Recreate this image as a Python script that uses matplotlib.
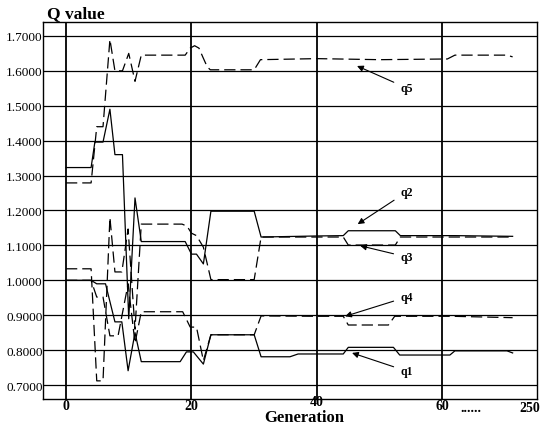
import matplotlib
matplotlib.use("Agg")
import matplotlib.pyplot as plt
import matplotlib.transforms as mtransforms

# ---- data ----
q5_x = [0, 4, 4.9, 5.9, 7, 7.8, 9, 10, 11, 12, 19, 19.8, 20.5, 21.2, 21.8, 22.5, 23, 30, 31, 40, 50, 60.8, 62, 70.3, 71.2]
q5_y = [1.279, 1.279, 1.44, 1.44, 1.69, 1.60, 1.60, 1.65, 1.57, 1.645, 1.645, 1.665, 1.672, 1.665, 1.64, 1.612, 1.603, 1.603, 1.632, 1.635, 1.632, 1.634, 1.645, 1.645, 1.64]

q2_x = [0, 4, 4.6, 5.9, 7, 7.8, 9, 10, 11, 12, 19, 20, 20.8, 21.9, 23.1, 30, 31.1, 40, 44.2, 45, 52.5, 53.3, 62, 71.2]
q2_y = [1.323, 1.323, 1.396, 1.396, 1.49, 1.36, 1.36, 0.89, 1.236, 1.111, 1.111, 1.075, 1.075, 1.047, 1.198, 1.198, 1.124, 1.127, 1.128, 1.142, 1.142, 1.128, 1.128, 1.126]

q3_x = [0, 4, 4.9, 5.9, 7, 7.8, 8.9, 9.9, 11, 12, 18.5, 19.3, 20, 20.8, 21.9, 23.1, 30, 31.1, 44.2, 45, 52.5, 53.3, 71.2]
q3_y = [1.033, 1.033, 0.712, 0.712, 1.18, 1.024, 1.024, 1.147, 0.86, 1.161, 1.161, 1.155, 1.135, 1.128, 1.095, 1.002, 1.002, 1.124, 1.124, 1.101, 1.101, 1.124, 1.124]

q4_x = [0, 4, 4.9, 5.9, 7, 8.3, 9.9, 11, 12, 18.6, 19.8, 20.8, 21.9, 23.1, 30, 31.1, 40, 44.2, 45, 51.4, 52.4, 61.5, 71.2]
q4_y = [1.0, 1.0, 0.952, 0.952, 0.841, 0.841, 0.99, 0.82, 0.91, 0.91, 0.866, 0.866, 0.77, 0.844, 0.844, 0.898, 0.897, 0.897, 0.872, 0.872, 0.897, 0.897, 0.893]

q1_x = [0, 4, 4.9, 6.3, 7.8, 8.9, 9.9, 11, 12, 18.2, 19.2, 20.3, 21.9, 23.1, 30, 31.1, 35.7, 37, 44.2, 45, 52.2, 53.2, 61.2, 62, 70.3, 71.2]
q1_y = [1.0, 1.0, 0.99, 0.99, 0.881, 0.881, 0.741, 0.85, 0.767, 0.767, 0.795, 0.795, 0.76, 0.844, 0.844, 0.781, 0.781, 0.789, 0.789, 0.808, 0.808, 0.786, 0.786, 0.798, 0.798, 0.792]

y_ticks = [0.7, 0.8, 0.9, 1.0, 1.1, 1.2, 1.3, 1.4, 1.5, 1.6, 1.7]
x_ticks = [0, 20, 40, 60]
x_tick_labels = ["0", "20", "40", "60"]

labels = ["q5", "q2", "q3", "q4", "q1"]
arrow_tips = [(46.4, 1.614), (46.5, 1.161), (46.9, 1.099), (44.5, 0.897), (45.6, 0.792)]
label_pos = [(54.3, 1.551), (54.3, 1.253), (54.3, 1.067), (54.3, 0.952), (54.3, 0.740)]

# ---- figure ----
plt.rcParams['font.family'] = ['Liberation Serif', 'DejaVu Serif']
fig = plt.figure(figsize=(5.4, 4.27), dpi=100)
ax = fig.add_axes([0.0796, 0.0632, 0.915, 0.883])
ax.set_xlim(-3.67, 75.1)
ax.set_ylim(0.66, 1.74)

for yv in y_ticks:
    ax.axhline(yv, color='black', lw=0.9, zorder=1)
for xv in x_ticks:
    ax.axvline(xv, color='black', lw=1.3, zorder=1)

dash = (9, 4)
ax.plot(q5_x, q5_y, color='black', lw=0.9, dashes=dash, zorder=3)
ax.plot(q2_x, q2_y, color='black', lw=0.9, zorder=3)
ax.plot(q3_x, q3_y, color='black', lw=0.9, dashes=dash, zorder=3)
ax.plot(q4_x, q4_y, color='black', lw=0.9, dashes=dash, zorder=3)
ax.plot(q1_x, q1_y, color='black', lw=0.9, zorder=3)

for lab, tip, pos in zip(labels, arrow_tips, label_pos):
    ax.annotate(lab, xy=tip, xytext=pos, fontsize=8.5, fontweight='bold',
                ha='center', va='center', zorder=4,
                arrowprops=dict(arrowstyle='-|>', color='black', lw=0.8,
                                mutation_scale=9, shrinkA=3, shrinkB=0))

ax.set_yticks(y_ticks)
ax.set_yticklabels([f"{v:.4f}" for v in y_ticks], fontsize=9.5)
ax.set_xticks(x_ticks)
ax.set_xticklabels(x_tick_labels, fontsize=10, fontweight='bold')
ax.tick_params(axis='both', length=0)
ax.tick_params(axis='y', pad=0.3)
ax.tick_params(axis='x', pad=0.3)

# the "40" label sits a little higher in the reference
lbl40 = ax.get_xticklabels()[2]
lbl40.set_transform(lbl40.get_transform() + mtransforms.ScaledTranslation(0, 3 / 72, fig.dpi_scale_trans))

ax.text(64.5, -0.004, "......", transform=ax.get_xaxis_transform(),
        ha='center', va='top', fontsize=10, fontweight='bold')
ax.text(74.0, -0.004, "250", transform=ax.get_xaxis_transform(),
        ha='center', va='top', fontsize=10, fontweight='bold')

for s in ax.spines.values():
    s.set_color('black')
    s.set_linewidth(1.0)

fig.text(0.087, 0.967, "Q value", fontsize=12.5, fontweight='bold', ha='left', va='center')
fig.text(0.563, 0.002, "Generation", fontsize=12, fontweight='bold', ha='center', va='bottom')

fig.savefig("out.png", dpi=100)
